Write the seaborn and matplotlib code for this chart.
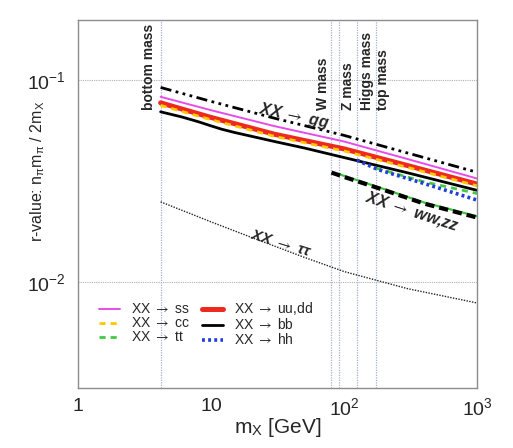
import matplotlib
matplotlib.use("Agg")
import matplotlib.pyplot as plt
import seaborn as sns
import numpy as np
import pandas as pd
from matplotlib.ticker import FixedLocator, FixedFormatter, LogLocator, NullFormatter

# ---------------- data ----------------
m_main = [4.18, 10, 30, 100, 300, 1000]
r_gg   = [0.0920, 0.0785, 0.0648, 0.0533, 0.0436, 0.0350]
r_ss   = [0.0827, 0.0710, 0.0592, 0.0497, 0.0407, 0.0326]
r_uudd = [0.0772, 0.0654, 0.0540, 0.0457, 0.0378, 0.0306]
r_cc   = [0.0750, 0.0637, 0.0527, 0.0446, 0.0370, 0.0300]

m_bb = [4.18, 6, 8, 10, 12, 15, 20, 30, 50, 100, 300, 1000]
r_bb = [0.0697, 0.0658, 0.0623, 0.0594, 0.0572, 0.0551, 0.0528, 0.0497, 0.0462, 0.0414, 0.0348, 0.0285]

m_tautau = [4.18, 10, 20, 50, 100, 300, 1000]
r_tautau = [0.0250, 0.0199, 0.0167, 0.0133, 0.0113, 0.0093, 0.0079]

m_hh = [125, 180, 400, 1000]
r_hh = [0.0402, 0.0361, 0.0308, 0.0255]

m_tt = [173, 250, 400, 1000]
r_tt = [0.0367, 0.0343, 0.0314, 0.0275]

m_ww = [80.4, 100, 200, 400, 1000]
r_ww = [0.0349, 0.0332, 0.0286, 0.0245, 0.0209]

m_zz = [91.2, 200, 400, 1000]
r_zz = [0.0343, 0.0289, 0.0248, 0.0212]

mass_names = ["bottom mass", "W mass", "Z mass", "Higgs mass", "top mass"]
mass_values = [4.18, 80.4, 91.2, 125.0, 173.0]
mass_label_x = [3.42, 69.5, 107.0, 148.0, 196.0]

x_ticks = [1, 10, 100, 1000]
x_tick_labels = ["1", "10", r"$\mathregular{10^{2}}$", r"$\mathregular{10^{3}}$"]
y_ticks = [0.01, 0.1]
y_tick_labels = [r"$\mathregular{10^{-2}}$", r"$\mathregular{10^{-1}}$"]

legend_labels = [r"XX $\rightarrow$ ss", r"XX $\rightarrow$ cc", r"XX $\rightarrow$ tt",
                 r"XX $\rightarrow$ uu,dd", r"XX $\rightarrow$ bb", r"XX $\rightarrow$ hh"]

# ---------------- style ----------------
sns.set_style("white")
FAM = ["Liberation Sans", "DejaVu Sans"]
plt.rcParams["font.family"] = FAM
plt.rcParams["mathtext.fontset"] = "stixsans"

fig = plt.figure(figsize=(5.13, 4.48), dpi=100)
ax = fig.add_axes([0.152, 0.134, 0.778, 0.821])
ax.set_xscale("log")
ax.set_yscale("log")

# grid / reference lines
for yv in y_ticks:
    ax.axhline(yv, color="#b0b0b0", lw=0.8, ls=(0, (1, 1)), zorder=0)
for xv in mass_values:
    ax.axvline(xv, color="#a8aed0", lw=0.9, ls=(0, (1, 1)), zorder=0)

def draw(m, r, **kw):
    sns.lineplot(x=m, y=r, ax=ax, legend=False, **kw)
    return ax.lines[-1]

ln_tau = draw(m_tautau, r_tautau, color="#222222", lw=1.0, ls=(0, (1, 1)))
ln_zz = draw(m_zz, r_zz, color="#3cc43c", lw=1.6, ls="-")
ln_ww = draw(m_ww, r_ww, color="black", lw=3.0, ls=(0, (2.2, 1.2)))
ln_gg = draw(m_main, r_gg, color="black", lw=2.0,
             ls=(0, (4, 1.6, 1, 1.6, 1, 1.6, 1, 1.6)))
ln_ss = draw(m_main, r_ss, color="#e84ce8", lw=1.4, ls="-")
ln_uu = draw(m_main, r_uudd, color="#ee2a1e", lw=3.6, ls="-")
ln_cc = draw(m_main, r_cc, color="#ffc800", lw=2.0, ls=(0, (2.2, 1.8)))
ln_bb = draw(m_bb, r_bb, color="black", lw=2.0, ls="-")
ln_tt = draw(m_tt, r_tt, color="#44c844", lw=2.0, ls=(0, (2.2, 1.8)))
ln_hh = draw(m_hh, r_hh, color="#1f3fd8", lw=2.6, ls=(0, (0.8, 0.9)))

ax.set_xlim(1, 1000)
ax.set_ylim(0.003, 0.198)

# ticks
ax.xaxis.set_major_locator(FixedLocator(x_ticks))
ax.xaxis.set_major_formatter(FixedFormatter(x_tick_labels))
ax.xaxis.set_minor_locator(LogLocator(base=10, subs=np.arange(2, 10), numticks=20))
ax.xaxis.set_minor_formatter(NullFormatter())
ax.yaxis.set_major_locator(FixedLocator(y_ticks))
ax.yaxis.set_major_formatter(FixedFormatter(y_tick_labels))
ax.yaxis.set_minor_locator(LogLocator(base=10, subs=np.arange(2, 10), numticks=20))
ax.yaxis.set_minor_formatter(NullFormatter())
ax.tick_params(which="both", direction="in", top=False, right=False,
               color="#555555", labelsize=14, width=0.8)
ax.tick_params(axis="x", which="major", length=10, pad=7)
ax.tick_params(axis="x", which="minor", length=5)
ax.tick_params(axis="y", which="major", length=7, pad=9)
ax.tick_params(axis="y", which="minor", length=5)

for s in ax.spines.values():
    s.set_color("#8c8c8c")
    s.set_linewidth(1.0)

ax.set_xlabel(r"m$_{\mathregular{X}}$ [GeV]", fontsize=15)
ax.set_ylabel(r"r-value: n$_{\mathregular{\pi}}$m$_{\mathregular{\pi}}$ / 2m$_{\mathregular{X}}$",
              fontsize=11.5)
ax.xaxis.set_label_coords(0.5, -0.075)
ax.yaxis.set_label_coords(-0.078, 0.59)

# mass labels
for name, xl in zip(mass_names, mass_label_x):
    ax.text(xl, 0.071, name, rotation=90, rotation_mode="anchor",
            ha="left", va="center", fontsize=10, fontweight="bold")

# in-plot channel labels
ax.text(42.1, 0.0660, r"XX $\rightarrow$ gg", rotation=-12, rotation_mode="anchor",
        ha="center", va="center", fontsize=11.5, fontweight="bold", fontstyle="italic")
ax.text(324, 0.0224, r"XX $\rightarrow$ ww,zz", rotation=-18, rotation_mode="anchor",
        ha="center", va="center", fontsize=11.5, fontweight="bold", fontstyle="italic")
ax.text(33.6, 0.0156, r"XX $\rightarrow$ ττ", rotation=-17, rotation_mode="anchor",
        ha="center", va="center", fontsize=11, fontweight="bold", fontstyle="italic")

# legend
handles = [ln_ss, ln_cc, ln_tt, ln_uu, ln_bb, ln_hh]
ax.legend(handles, legend_labels, ncol=2, loc="upper left", bbox_to_anchor=(0.053, 0.238),
          frameon=False, fontsize=10, handlelength=1.5, handletextpad=0.8,
          columnspacing=0.9, labelspacing=0.0, borderpad=0.0, borderaxespad=0.0)

fig.savefig("out.png", dpi=100)
